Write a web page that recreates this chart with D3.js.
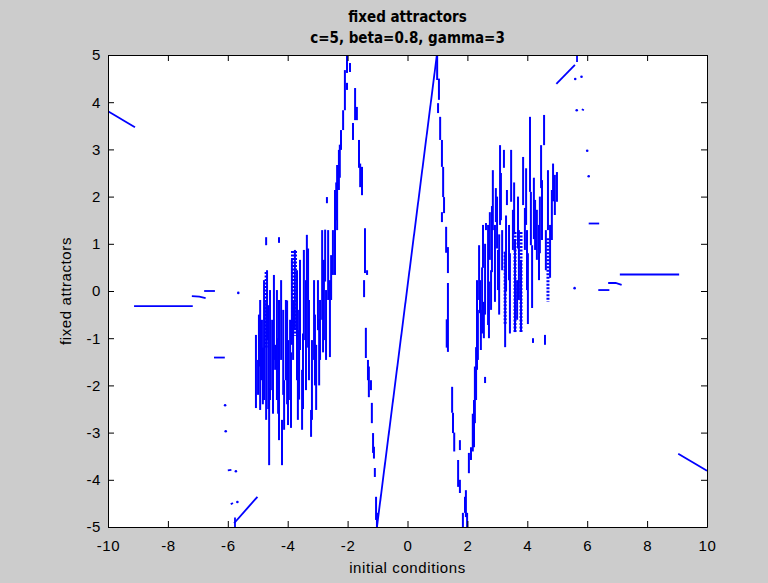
<!DOCTYPE html>
<html>
<head>
<meta charset="utf-8">
<script src="https://cdn.jsdelivr.net/npm/d3@7"></script>
<style>
  html, body { margin: 0; padding: 0; background: #cccccc; }
  svg { display: block; }
  .tick text { font-family: "Liberation Sans", Arial, sans-serif; font-size: 15px; letter-spacing: 0.6px; fill: #000; }
</style>
</head>
<body>
<svg id="chart" width="768" height="583"></svg>
<script>
// ---------------- data ----------------
const titleLines = ["fixed attractors", "c=5, beta=0.8, gamma=3"];
const xLabel = "initial conditions";
const yLabel = "fixed attractors";
const xTicks = [-10, -8, -6, -4, -2, 0, 2, 4, 6, 8, 10];
const yTicks = [-5, -4, -3, -2, -1, 0, 1, 2, 3, 4, 5];

// polylines of attractor values (x = initial condition, y = fixed attractor)
const outerLines = [
  [[-10, 3.81], [-9.10, 3.47]],
  [[-9.13, -0.32], [-7.17, -0.32]],
  [[-7.20, -0.11], [-6.95, -0.12], [-6.74, -0.15]],
  [[-6.79, 0.00], [-6.43, 0.00]],
  [[-6.46, -1.41], [-6.10, -1.41]],
  [[-6.00, -3.80], [-5.88, -3.79]],
  [[-5.90, -4.52], [-5.83, -4.49]],
  [[-5.79, -4.92], [-5.01, -4.36]],
  [[-5.76, -4.80], [-5.76, -5.00]],
  [[9.04, -3.45], [10, -3.81]],
  [[7.09, 0.35], [9.07, 0.35]],
  [[6.70, 0.17], [6.95, 0.17], [7.15, 0.13]],
  [[6.37, 0.02], [6.74, 0.02]],
  [[6.05, 1.43], [6.40, 1.43]],
  [[5.82, 3.85], [5.89, 3.83]],
  [[4.97, 4.39], [5.59, 4.79]],
  [[5.66, 4.85], [5.66, 5.00]]
];
const centerLine = [[-1.02, -5.00], [0.98, 5.00]];

const isolatedPoints = [
  [-5.65, -0.04], [-6.09, -2.42], [-6.07, -2.97], [-5.73, -3.82], [-5.68, -4.47],
  [5.58, 0.06], [6.05, 2.43], [6.00, 2.97], [5.65, 3.83], [5.60, 4.49], [5.81, 4.54]
];

// vertical runs of attractors: [x, yTop, yBottom]
const leftFallRuns = [
  [-2.02, 5.00, 4.62], [-1.92, 4.83, 4.64], [-2.02, 4.41, 4.26], [-1.75, 4.30, 3.62],
  [-1.69, 3.90, 3.62], [-1.82, 3.56, 3.20], [-1.62, 3.20, 2.61], [-1.52, 2.63, 2.03],
  [-1.42, 1.33, 0.38], [-1.35, 0.44, 0.34], [-1.45, 0.23, -0.13], [-1.39, -0.78, -1.42],
  [-1.32, -1.46, -1.89], [-1.22, -1.89, -2.10], [-1.19, -2.37, -2.80], [-1.15, -3.01, -3.43],
  [-1.09, -3.75, -3.94], [-1.05, -4.36, -4.85], [-1.02, -4.70, -5.00],
  [-1.58, 2.70, 2.20], [-1.29, -1.60, -2.25], [-1.12, -3.30, -3.55]
];
const rightFallRuns = [
  [0.99, 5.00, 4.47], [1.02, 3.98, 3.77], [1.09, 3.69, 3.20], [1.15, 3.20, 2.63],
  [1.19, 2.63, 1.99], [1.22, 1.99, 1.65], [1.15, 1.67, 1.46], [1.29, 1.36, 0.81],
  [1.35, 0.93, 0.38], [1.35, 0.17, -1.29], [1.49, -2.03, -2.58], [1.52, -2.58, -3.01],
  [1.75, -3.16, -3.37], [1.69, -3.58, -4.15], [1.75, -4.00, -4.28], [1.92, -4.36, -4.70],
  [1.99, -4.70, -5.00], [1.05, 4.50, 4.05], [1.31, -0.60, -1.20], [1.56, -3.00, -3.40]
];
const leftRiseRuns = [
  [-2.09, 4.68, 3.83], [-2.15, 3.83, 3.41], [-2.22, 3.41, 2.99], [-2.29, 2.99, 2.14],
  [-2.35, 2.67, 1.29], [-2.42, 2.14, 0.34], [-2.49, 1.29, 0.34], [-2.55, 0.76, -0.19],
  [-2.26, 3.10, 2.40], [-2.38, 2.30, 1.50]
];
const rightRiseRuns = [
  [1.85, -4.70, -5.00], [1.95, -4.22, -4.79], [2.05, -3.43, -3.86], [2.12, -3.31, -3.58],
  [2.22, -2.31, -3.31], [2.29, -1.19, -2.31], [2.35, -0.40, -1.46], [2.42, 0.23, -0.47],
  [2.59, -1.82, -1.95], [2.25, -1.60, -2.80], [2.18, -2.60, -3.40]
];
const leftClusterRuns = [
  [-5.06, -0.93, -2.48], [-4.99, -1.46, -2.20], [-4.92, -0.19, -2.52], [-4.86, -0.61, -1.89],
  [-4.79, 0.23, -2.31], [-4.72, -0.19, -2.73], [-4.69, 0.44, -1.04], [-4.62, -2.06, -3.69],
  [-4.59, 0.02, -2.31], [-4.52, -0.61, -2.10], [-4.46, 0.34, -1.46], [-4.42, -1.14, -1.67],
  [-4.36, 0.02, -2.31], [-4.29, -0.19, -3.16], [-4.22, 0.23, -1.46], [-4.19, -2.73, -3.69],
  [-4.12, -1.89, -2.94], [-4.06, -0.19, -1.89], [-3.99, -1.04, -2.84], [-3.92, -0.61, -2.31],
  [-3.86, 0.66, -1.14], [-3.82, -0.19, -1.46], [-3.76, 0.87, -0.83], [-3.69, 0.44, -1.89],
  [-3.66, -0.83, -2.73], [-3.59, 0.66, -1.25], [-3.52, -1.67, -2.94], [-3.46, 0.87, -1.04],
  [-3.39, 0.23, -2.10], [-3.36, 1.19, -0.19], [-3.29, -0.19, -1.89], [-3.22, -2.52, -3.09],
  [-3.19, -1.04, -2.73], [-3.12, 0.23, -1.46], [-3.05, -1.14, -2.52], [-2.99, 0.23, -0.83],
  [-2.92, -0.19, -1.46], [-2.85, 1.29, -0.61], [-2.79, 0.66, -1.04], [-2.72, 0.02, -1.46],
  [-2.69, 1.99, 1.86], [-2.65, 1.29, -0.19], [-2.59, 0.23, -1.40],
  [-4.72, 1.14, 0.97], [-4.29, 1.14, 1.02],
  [-4.96, -0.50, -1.60], [-4.83, -1.20, -2.40], [-4.65, -0.30, -2.50], [-4.49, -1.30, -2.60],
  [-4.32, -1.00, -2.60], [-4.15, -0.40, -2.20], [-4.02, -0.20, -2.40], [-3.89, -1.30, -2.90],
  [-3.62, -0.40, -2.30], [-3.49, -0.90, -2.50], [-3.32, 0.90, -1.20], [-3.09, -0.50, -2.00],
  [-2.95, -0.60, -2.00], [-2.82, -0.30, -1.30], [-2.75, 1.30, 0.20]
];
const rightClusterRuns = [
  [2.32, 0.23, -1.67], [2.39, 0.97, -0.19], [2.45, -0.40, -1.25], [2.52, 1.40, 0.49],
  [2.55, -0.23, -1.00], [2.62, 1.44, 1.29], [2.69, 1.40, -0.72], [2.75, 1.67, 0.66],
  [2.79, 0.44, -0.40], [2.85, 2.56, 1.29], [2.92, 1.40, -0.23], [2.95, 2.18, 1.46],
  [3.02, 0.87, 0.02], [3.09, 3.09, 1.40], [3.16, 1.29, 0.44], [3.22, 2.99, 2.61],
  [3.26, 0.83, -1.19], [3.32, 2.14, 1.82], [3.39, 1.40, 0.23], [3.46, 2.99, 1.89],
  [3.52, 1.72, 0.87], [3.59, 1.08, -0.87], [3.66, 0.23, -0.61], [3.72, 1.29, -0.19],
  [3.79, 0.66, -0.83], [3.86, 2.84, 1.82], [3.92, 1.76, 0.87], [3.99, 1.29, 0.02],
  [4.09, 3.69, 2.10], [4.12, 2.10, 0.97], [4.16, 0.97, -0.36], [4.19, -1.00, -1.10],
  [4.26, 1.93, 0.87], [4.32, 1.72, 0.66], [4.39, 1.40, 0.23], [4.46, 3.09, 2.18],
  [4.49, 2.35, 1.08], [4.56, 3.73, 3.09], [4.59, -0.93, -1.14], [4.62, 1.29, 0.44],
  [4.69, 2.56, 1.29], [4.76, 1.40, 0.28], [4.82, 2.14, 1.08], [4.92, 2.46, 1.61],
  [4.99, 2.52, 1.89],
  [2.49, 0.50, -0.90], [2.59, 1.00, -0.50], [2.72, 0.20, -1.00], [2.82, 1.80, 0.40],
  [2.99, 2.00, 0.90], [3.06, 1.20, -0.50], [3.12, 2.50, 1.50], [3.29, 1.60, 0.00],
  [3.42, 0.80, -0.90], [3.56, 2.30, 1.20], [3.69, 2.00, 0.90], [3.96, 2.60, 1.40],
  [4.02, 0.80, -0.70], [4.22, 2.40, 1.10], [4.42, 2.00, 0.80], [4.86, 2.70, 1.90]
];
// densely dotted columns
const dottedRuns = [
  [-3.84, 0.85, -0.95], [-3.74, 0.85, -0.95], [-4.72, 0.40, -1.20],
  [3.59, 1.25, -0.87], [3.79, 1.25, -0.87], [3.26, 0.83, -0.72], [4.69, 1.12, -0.23]
];

// ---------------- drawing ----------------
const W = 768, H = 583;
const mL = 108, mR = 707, mT = 55, mB = 527;
const svg = d3.select("#chart");
const blue = "#0000ff";

svg.append("rect").attr("width", W).attr("height", H).attr("fill", "#cccccc");

const x = d3.scaleLinear().domain([-10, 10]).range([mL, mR]);
const y = d3.scaleLinear().domain([-5, 5]).range([mB, mT]);

svg.append("rect").attr("x", mL).attr("y", mT)
  .attr("width", mR - mL).attr("height", mB - mT).attr("fill", "#ffffff");

svg.append("clipPath").attr("id", "clip").append("rect")
  .attr("x", mL).attr("y", mT).attr("width", mR - mL).attr("height", mB - mT);

const g = svg.append("g").attr("clip-path", "url(#clip)");
const line = d3.line().x(d => x(d[0])).y(d => y(d[1]));

g.selectAll("path.outer").data(outerLines).join("path")
  .attr("class", "outer").attr("d", line)
  .attr("fill", "none").attr("stroke", blue).attr("stroke-width", 1.8);

g.append("path").attr("d", line(centerLine))
  .attr("fill", "none").attr("stroke", blue).attr("stroke-width", 1.8);

const allRuns = [].concat(leftFallRuns, rightFallRuns, leftRiseRuns, rightRiseRuns,
  leftClusterRuns, rightClusterRuns);
g.selectAll("line.run").data(allRuns).join("line")
  .attr("class", "run")
  .attr("x1", d => x(d[0])).attr("x2", d => x(d[0]))
  .attr("y1", d => y(d[1])).attr("y2", d => y(d[2]))
  .attr("stroke", blue).attr("stroke-width", 2);

g.selectAll("line.dot").data(dottedRuns).join("line")
  .attr("class", "dot")
  .attr("x1", d => x(d[0])).attr("x2", d => x(d[0]))
  .attr("y1", d => y(d[1])).attr("y2", d => y(d[2]))
  .attr("stroke", blue).attr("stroke-width", 3).attr("stroke-dasharray", "2,1.5");

g.selectAll("circle.pt").data(isolatedPoints).join("circle")
  .attr("class", "pt").attr("cx", d => x(d[0])).attr("cy", d => y(d[1]))
  .attr("r", 1.3).attr("fill", blue);

// axes (inward ticks, box)
const fmt = d => String(d);
const axB = svg.append("g").attr("transform", `translate(0,${mB})`)
  .call(d3.axisBottom(x).tickValues(xTicks).tickFormat(fmt).tickSize(-6).tickPadding(13).tickSizeOuter(0));
const axL = svg.append("g").attr("transform", `translate(${mL},0)`)
  .call(d3.axisLeft(y).tickValues(yTicks).tickFormat(fmt).tickSize(-6).tickPadding(7).tickSizeOuter(0));
const axT = svg.append("g").attr("transform", `translate(0,${mT})`)
  .call(d3.axisTop(x).tickValues(xTicks).tickSize(-6).tickFormat("").tickSizeOuter(0));
const axR = svg.append("g").attr("transform", `translate(${mR},0)`)
  .call(d3.axisRight(y).tickValues(yTicks).tickSize(-6).tickFormat("").tickSizeOuter(0));
[axB, axL, axT, axR].forEach(a => {
  a.select(".domain").attr("stroke", "#000");
  a.selectAll(".tick line").attr("stroke", "#000");
});

// titles and labels
const titleFont = '"Liberation Sans Narrow", "DejaVu Sans Condensed", "Liberation Sans", sans-serif';
svg.append("text").attr("x", (mL + mR) / 2).attr("y", 22)
  .attr("text-anchor", "middle").attr("font-family", titleFont)
  .attr("font-weight", "bold").attr("font-size", 15).text(titleLines[0]);
svg.append("text").attr("x", (mL + mR) / 2).attr("y", 43)
  .attr("text-anchor", "middle").attr("font-family", titleFont)
  .attr("font-weight", "bold").attr("font-size", 15).text(titleLines[1]);

svg.append("text").attr("x", (mL + mR) / 2).attr("y", 573)
  .attr("text-anchor", "middle").attr("font-family", '"Liberation Sans", Arial, sans-serif')
  .attr("font-size", 15).attr("letter-spacing", "0.6px").text(xLabel);
svg.append("text")
  .attr("transform", `translate(71,${(mT + mB) / 2}) rotate(-90)`)
  .attr("text-anchor", "middle").attr("font-family", '"Liberation Sans", Arial, sans-serif')
  .attr("font-size", 15).attr("letter-spacing", "0.6px").text(yLabel);
</script>
</body>
</html>
